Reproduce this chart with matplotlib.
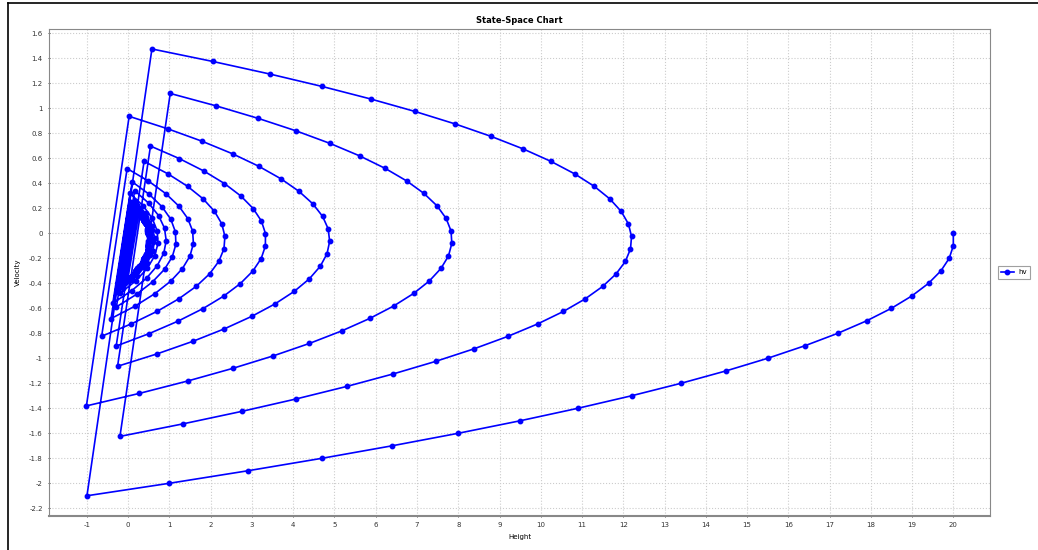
import numpy as np
import matplotlib
matplotlib.use('Agg')
import matplotlib.pyplot as plt

# state samples (height, velocity), one list pair per flight between bounces
h_drop = [20, 20, 19.9, 19.7, 19.4, 19.0, 18.5, 17.9, 17.2, 16.4, 15.5, 14.5, 13.4, 12.2, 10.9, 9.5, 8.0, 6.4, 4.7, 2.9, 1.0, -1.0]
v_drop = [0, -0.1, -0.2, -0.3, -0.4, -0.5, -0.6, -0.7, -0.8, -0.9, -1.0, -1.1, -1.2, -1.3, -1.4, -1.5, -1.6, -1.7, -1.8, -1.9, -2.0, -2.1]

h_b1 = [0.575, 2.05, 3.425, 4.7, 5.875, 6.95, 7.925, 8.8, 9.575, 10.25, 10.825, 11.3, 11.675, 11.95, 12.125, 12.2,
        12.175, 12.05, 11.825, 11.5, 11.075, 10.55, 9.925, 9.2, 8.375, 7.45, 6.425, 5.3, 4.075, 2.75, 1.325, -0.2]
v_b1 = [1.475, 1.375, 1.275, 1.175, 1.075, 0.975, 0.875, 0.775, 0.675, 0.575, 0.475, 0.375, 0.275, 0.175, 0.075, -0.025,
        -0.125, -0.225, -0.325, -0.425, -0.525, -0.625, -0.725, -0.825, -0.925, -1.025, -1.125, -1.225, -1.325, -1.425, -1.525, -1.625]

h_b2 = [1.019, 2.138, 3.156, 4.075, 4.894, 5.613, 6.231, 6.75, 7.169, 7.488, 7.706, 7.825, 7.844,
        7.763, 7.581, 7.3, 6.919, 6.438, 5.856, 5.175, 4.394, 3.513, 2.531, 1.45, 0.269, -1.013]
v_b2 = [1.119, 1.019, 0.919, 0.819, 0.719, 0.619, 0.519, 0.419, 0.319, 0.219, 0.119, 0.019, -0.081,
        -0.181, -0.281, -0.381, -0.481, -0.581, -0.681, -0.781, -0.881, -0.981, -1.081, -1.181, -1.281, -1.381]

h_b3 = [0.023, 0.959, 1.795, 2.531, 3.167, 3.703, 4.139, 4.475, 4.711, 4.847, 4.883,
        4.819, 4.655, 4.391, 4.027, 3.563, 2.998, 2.334, 1.570, 0.706, -0.258]
v_b3 = [0.936, 0.836, 0.736, 0.636, 0.536, 0.436, 0.336, 0.236, 0.136, 0.036, -0.064,
        -0.164, -0.264, -0.364, -0.464, -0.564, -0.664, -0.764, -0.864, -0.964, -1.064]

h_b4 = [0.540, 1.238, 1.836, 2.334, 2.732, 3.030, 3.229, 3.327, 3.325, 3.223, 3.021, 2.719, 2.317, 1.815, 1.213, 0.511, -0.291]
v_b4 = [0.698, 0.598, 0.498, 0.398, 0.298, 0.198, 0.098, -0.002, -0.102, -0.202, -0.302, -0.402, -0.502, -0.602, -0.702, -0.802, -0.902]

h_b5 = [0.385, 0.962, 1.438, 1.815, 2.091, 2.268, 2.344, 2.321, 2.197, 1.974, 1.650, 1.227, 0.703, 0.079, -0.644]
v_b5 = [0.576, 0.476, 0.376, 0.276, 0.176, 0.076, -0.024, -0.124, -0.224, -0.324, -0.424, -0.524, -0.624, -0.724, -0.824]

h_b6 = [-0.026, 0.491, 0.909, 1.227, 1.444, 1.562, 1.580, 1.497, 1.315, 1.033, 0.650, 0.168, -0.415]
v_b6 = [0.518, 0.418, 0.318, 0.218, 0.118, 0.018, -0.082, -0.182, -0.282, -0.382, -0.482, -0.582, -0.682]

h_b7 = [0.097, 0.509, 0.821, 1.033, 1.144, 1.156, 1.068, 0.880, 0.591, 0.203, -0.285]
v_b7 = [0.412, 0.312, 0.212, 0.112, 0.012, -0.088, -0.188, -0.288, -0.388, -0.488, -0.588]

h_b8 = [0.156, 0.497, 0.738, 0.880, 0.921, 0.862, 0.703, 0.444, 0.085, -0.373]
v_b8 = [0.341, 0.241, 0.141, 0.041, -0.059, -0.159, -0.259, -0.359, -0.459, -0.559]

h_b9 = [0.046, 0.365, 0.584, 0.703, 0.722, 0.641, 0.461, 0.180, -0.201]
v_b9 = [0.319, 0.219, 0.119, 0.019, -0.081, -0.181, -0.281, -0.381, -0.481]

h_b10 = [0.159, 0.420, 0.581, 0.641, 0.602, 0.463, 0.223, -0.116]
v_b10 = [0.261, 0.161, 0.061, -0.039, -0.139, -0.239, -0.339, -0.439]

h_b11 = [0.214, 0.443, 0.573, 0.602, 0.532, 0.361, 0.091, -0.280]
v_b11 = [0.230, 0.130, 0.030, -0.070, -0.170, -0.270, -0.370, -0.470]

h_b12 = [0.073, 0.326, 0.479, 0.532, 0.484, 0.337, 0.090, -0.257]
v_b12 = [0.253, 0.153, 0.053, -0.047, -0.147, -0.247, -0.347, -0.447]

# small bounces that settle near 0.48 apex
h_settle = [0.078, 0.314, 0.449, 0.484, 0.420, 0.255, -0.009,
            0.264, 0.437, 0.511, 0.484, 0.358, 0.131, -0.195,
            0.125, 0.345, 0.465, 0.484, 0.404, 0.224, -0.056,
            0.229, 0.414, 0.499, 0.484, 0.370, 0.155, -0.160,
            0.151, 0.362, 0.473, 0.484, 0.396, 0.207, -0.082,
            0.210, 0.401, 0.493, 0.484, 0.376, 0.168, -0.141,
            0.166, 0.372, 0.478, 0.484, 0.391, 0.197, -0.097,
            0.199, 0.394, 0.489, 0.484, 0.380, 0.175, -0.130,
            0.174, 0.377, 0.481, 0.484, 0.388, 0.192, -0.105,
            0.192, 0.390, 0.487, 0.485, 0.382, 0.179, -0.123,
            0.179, 0.381, 0.483, 0.485, 0.387, 0.188, -0.110,
            0.189, 0.388, 0.486, 0.485, 0.383, 0.182, -0.120,
            0.181, 0.382, 0.483, 0.485, 0.386, 0.187, -0.112,
            0.187, 0.386, 0.485, 0.485, 0.384, 0.183, -0.118,
            0.183, 0.383, 0.484]
v_settle = [0.235, 0.135, 0.035, -0.065, -0.165, -0.265, -0.365,
            0.173, 0.073, -0.027, -0.127, -0.227, -0.327, -0.427,
            0.220, 0.120, 0.020, -0.080, -0.180, -0.280, -0.380,
            0.185, 0.085, -0.015, -0.115, -0.215, -0.315, -0.415,
            0.211, 0.111, 0.011, -0.089, -0.189, -0.289, -0.389,
            0.192, 0.092, -0.008, -0.108, -0.208, -0.308, -0.408,
            0.206, 0.106, 0.006, -0.094, -0.194, -0.294, -0.394,
            0.195, 0.095, -0.005, -0.105, -0.205, -0.305, -0.405,
            0.204, 0.104, 0.004, -0.096, -0.196, -0.296, -0.396,
            0.197, 0.097, -0.003, -0.103, -0.203, -0.303, -0.403,
            0.202, 0.102, 0.002, -0.098, -0.198, -0.298, -0.398,
            0.199, 0.099, -0.001, -0.101, -0.201, -0.301, -0.401,
            0.201, 0.101, 0.001, -0.099, -0.199, -0.299, -0.399,
            0.199, 0.099, -0.001, -0.101, -0.201, -0.301, -0.401,
            0.201, 0.101, 0.001]

H = h_drop + h_b1 + h_b2 + h_b3 + h_b4 + h_b5 + h_b6 + h_b7 + h_b8 + h_b9 + h_b10 + h_b11 + h_b12 + h_settle
V = v_drop + v_b1 + v_b2 + v_b3 + v_b4 + v_b5 + v_b6 + v_b7 + v_b8 + v_b9 + v_b10 + v_b11 + v_b12 + v_settle

x_ticks = list(range(-1, 21))
y_ticks = [-2.2, -2, -1.8, -1.6, -1.4, -1.2, -1, -0.8, -0.6, -0.4, -0.2, 0, 0.2, 0.4, 0.6, 0.8, 1, 1.2, 1.4, 1.6]

fig = plt.figure(figsize=(10.38, 5.5), dpi=100)
ax = fig.add_axes([0.0472, 0.0618, 0.9066, 0.886])

ax.plot(H, V, '-', color='#0000ff', lw=1.2, marker='o', ms=3.2, label='hv')

ax.set_xlim(-1.92, 20.89)
ax.set_ylim(-2.262, 1.637)
ax.set_xticks(x_ticks)
ax.set_xticklabels([str(t) for t in x_ticks])
ax.set_yticks(y_ticks)
ax.set_yticklabels(['%g' % t for t in y_ticks])
ax.tick_params(labelsize=5, colors='#333333', length=2, width=0.6, direction='inout')
ax.grid(True, ls=':', color='#cccccc', lw=0.8)
ax.set_axisbelow(True)
for s in ax.spines.values():
    s.set_color('#888888')
    s.set_linewidth(0.8)
ax.spines['bottom'].set_linewidth(1.5)

ax.set_title('State-Space Chart', fontsize=6, fontweight='bold', pad=4)
ax.set_xlabel('Height', fontsize=5, labelpad=4)
ax.set_ylabel('Velocity', fontsize=5, labelpad=6)

leg = ax.legend(loc='center left', bbox_to_anchor=(1.006, 0.5), fontsize=5, frameon=True,
                fancybox=False, edgecolor='#888888', handlelength=1.8, handletextpad=0.6,
                borderpad=0.5, borderaxespad=0.3)
leg.get_frame().set_linewidth(0.8)

# thin black frame lines around the page (top and left)
fig.add_artist(plt.Line2D([8 / 1038, 8 / 1038], [0, 1 - 3 / 550], color='black', lw=1.2, transform=fig.transFigure))
fig.add_artist(plt.Line2D([8 / 1038, 1], [1 - 3 / 550, 1 - 3 / 550], color='black', lw=1.2, transform=fig.transFigure))

fig.savefig('out.png', dpi=100)
